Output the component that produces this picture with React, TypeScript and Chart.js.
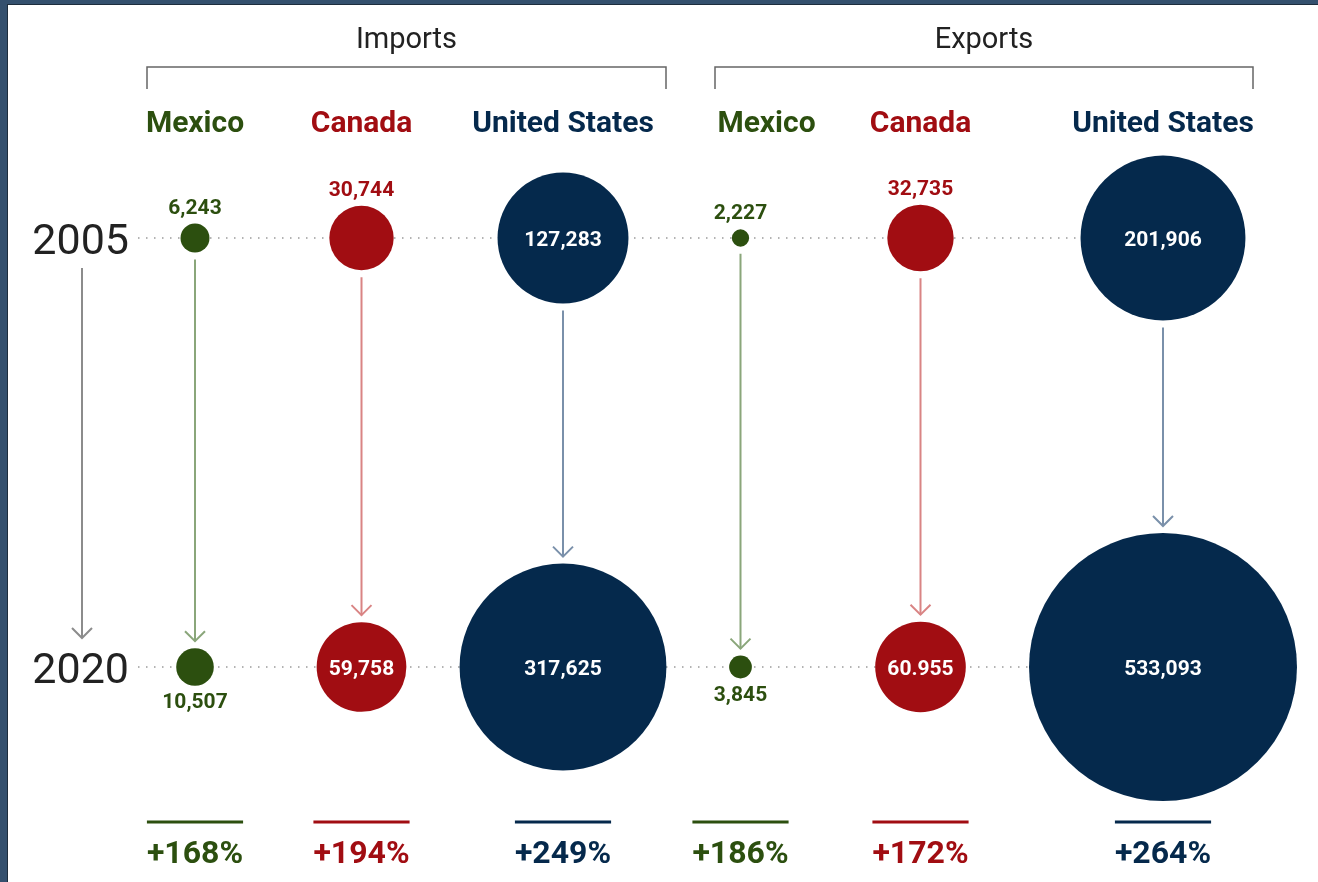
import React, { useEffect, useRef } from "react";
import { Chart, registerables } from "chart.js";

Chart.register(...registerables);

// ---------- data ----------
const countries = ["Mexico", "Canada", "United States"];
const flowTitles = ["Imports", "Exports"];
const years = [2005, 2020];

const imports2005 = [6243, 30744, 127283];
const imports2020 = [10507, 59758, 317625];
const exports2005 = [2227, 32735, 201906];
const exports2020 = [3845, 60955, 533093];

const imports2005Labels = ["6,243", "30,744", "127,283"];
const imports2020Labels = ["10,507", "59,758", "317,625"];
const exports2005Labels = ["2,227", "32,735", "201,906"];
const exports2020Labels = ["3,845", "60.955", "533,093"];

const importsChange = ["+168%", "+194%", "+249%"];
const exportsChange = ["+186%", "+172%", "+264%"];

// ---------- layout / style ----------
const W = 1310;
const H = 877;
const COLUMN_X = [
  [187, 353.5, 555],
  [732.5, 912.5, 1155],
];
const HEADER_DX = [
  [0, 0, 0],
  [26, 0, 0],
];
const BRACKETS = [
  [139, 658],
  [707, 1245],
];
const ROW_PX = [233, 662];
const RADIUS_K = 0.1835;
const COLORS = ["#2c4f0f", "#a10d12", "#05294c"];
const ARROW_COLORS = ["#8aa67a", "#d98484", "#7a90aa"];
const FONT = "Roboto, 'Noto Sans', Arial, sans-serif";

const perYear = (years[1] - years[0]) / (ROW_PX[1] - ROW_PX[0]);
const Y_MIN = years[0] - ROW_PX[0] * perYear;
const Y_MAX = years[0] + (H - ROW_PX[0]) * perYear;

const rad = (v: number) => RADIUS_K * Math.sqrt(v);

const groups = [
  { v05: imports2005, v20: imports2020, l05: imports2005Labels, l20: imports2020Labels, change: importsChange },
  { v05: exports2005, v20: exports2020, l05: exports2005Labels, l20: exports2020Labels, change: exportsChange },
];

function drawArrow(ctx: CanvasRenderingContext2D, x: number, y1: number, y2: number, color: string) {
  ctx.save();
  ctx.strokeStyle = color;
  ctx.lineWidth = 2;
  ctx.setLineDash([]);
  ctx.beginPath();
  ctx.moveTo(x, y1);
  ctx.lineTo(x, y2);
  ctx.stroke();
  ctx.beginPath();
  ctx.moveTo(x - 10, y2 - 10);
  ctx.lineTo(x, y2);
  ctx.lineTo(x + 10, y2 - 10);
  ctx.stroke();
  ctx.restore();
}

const decorPlugin = {
  id: "decor",
  beforeDatasetsDraw(chart: any) {
    const ctx: CanvasRenderingContext2D = chart.ctx;
    const xs = chart.scales.x;
    const ys = chart.scales.y;
    // dotted row lines
    ctx.save();
    ctx.strokeStyle = "#9a9a9a";
    ctx.lineWidth = 1.5;
    ctx.setLineDash([1.5, 6.5]);
    years.forEach((yr) => {
      const y = ys.getPixelForValue(yr);
      ctx.beginPath();
      ctx.moveTo(130, y);
      ctx.lineTo(xs.getPixelForValue(COLUMN_X[1][2]), y);
      ctx.stroke();
    });
    ctx.restore();
    // arrows between bubbles
    groups.forEach((g, gi) => {
      countries.forEach((_, i) => {
        const x = xs.getPixelForValue(COLUMN_X[gi][i]);
        const y1 = ys.getPixelForValue(years[0]) + rad(g.v05[i]) + 7;
        const y2 = ys.getPixelForValue(years[1]) - rad(g.v20[i]) - 7;
        drawArrow(ctx, x, y1, y2, ARROW_COLORS[i]);
      });
    });
    // time arrow
    drawArrow(ctx, 74, ys.getPixelForValue(years[0]) + 30, ys.getPixelForValue(years[1]) - 29, "#8c8c8c");
  },
  afterDatasetsDraw(chart: any) {
    const ctx: CanvasRenderingContext2D = chart.ctx;
    const xs = chart.scales.x;
    const ys = chart.scales.y;
    ctx.save();
    ctx.setLineDash([]);
    // titles & brackets
    flowTitles.forEach((t, gi) => {
      const [a, b] = BRACKETS[gi];
      const xa = xs.getPixelForValue(a);
      const xb = xs.getPixelForValue(b);
      ctx.fillStyle = "#222";
      ctx.font = `400 29px ${FONT}`;
      ctx.textAlign = "center";
      ctx.textBaseline = "alphabetic";
      ctx.fillText(t, (xa + xb) / 2, 43);
      ctx.strokeStyle = "#666";
      ctx.lineWidth = 1.5;
      ctx.beginPath();
      ctx.moveTo(xa, 84);
      ctx.lineTo(xa, 62);
      ctx.lineTo(xb, 62);
      ctx.lineTo(xb, 84);
      ctx.stroke();
    });
    // column headers
    groups.forEach((g, gi) => {
      countries.forEach((c, i) => {
        const x = xs.getPixelForValue(COLUMN_X[gi][i] + HEADER_DX[gi][i]);
        ctx.fillStyle = COLORS[i];
        ctx.font = `700 30px ${FONT}`;
        ctx.textAlign = "center";
        ctx.textBaseline = "alphabetic";
        ctx.fillText(c, x, 127);
      });
    });
    // year labels
    years.forEach((yr) => {
      const y = ys.getPixelForValue(yr);
      ctx.fillStyle = "#222";
      ctx.font = `400 43px ${FONT}`;
      ctx.textAlign = "right";
      ctx.textBaseline = "alphabetic";
      ctx.fillText(String(yr), 121, y + 16);
    });
    // value labels
    groups.forEach((g, gi) => {
      countries.forEach((_, i) => {
        const x = xs.getPixelForValue(COLUMN_X[gi][i]);
        [0, 1].forEach((k) => {
          const v = k === 0 ? g.v05[i] : g.v20[i];
          const label = k === 0 ? g.l05[i] : g.l20[i];
          const cy = ys.getPixelForValue(years[k]);
          const r = rad(v);
          ctx.font = `700 21px ${FONT}`;
          ctx.textAlign = "center";
          ctx.textBaseline = "alphabetic";
          if (r >= 40) {
            ctx.fillStyle = "#ffffff";
            ctx.fillText(label, x, cy + 7.5);
          } else if (k === 0) {
            ctx.fillStyle = COLORS[i];
            ctx.fillText(label, x, cy - r - 10);
          } else {
            ctx.fillStyle = COLORS[i];
            ctx.fillText(label, x, cy + r + 22.5);
          }
        });
      });
    });
    // change rules and percentages
    groups.forEach((g, gi) => {
      countries.forEach((_, i) => {
        const x = xs.getPixelForValue(COLUMN_X[gi][i]);
        ctx.font = `700 32px ${FONT}`;
        ctx.textAlign = "center";
        ctx.textBaseline = "alphabetic";
        const w = ctx.measureText(g.change[i]).width;
        ctx.strokeStyle = COLORS[i];
        ctx.lineWidth = 3;
        ctx.beginPath();
        ctx.moveTo(x - w / 2, 817);
        ctx.lineTo(x + w / 2, 817);
        ctx.stroke();
        ctx.fillStyle = COLORS[i];
        ctx.fillText(g.change[i], x, 858);
      });
    });
    ctx.restore();
  },
};

export default function App() {
  const ref = useRef<HTMLCanvasElement>(null);

  useEffect(() => {
    document.body.style.margin = "0";
    const canvas = ref.current;
    if (!canvas) return;
    const datasets = countries.map((c, i) => ({
      label: c,
      data: groups.flatMap((g, gi) => [
        { x: COLUMN_X[gi][i], y: years[0], r: rad(g.v05[i]) },
        { x: COLUMN_X[gi][i], y: years[1], r: rad(g.v20[i]) },
      ]),
      backgroundColor: COLORS[i],
      borderWidth: 0,
      hoverBorderWidth: 0,
      clip: false as any,
    }));
    const chart = new Chart(canvas, {
      type: "bubble",
      data: { datasets },
      options: {
        animation: false,
        responsive: false,
        devicePixelRatio: 1,
        events: [],
        layout: { padding: 0, autoPadding: false },
        plugins: { legend: { display: false }, tooltip: { enabled: false } },
        scales: {
          x: { type: "linear", min: 0, max: W, display: false },
          y: { type: "linear", min: Y_MIN, max: Y_MAX, reverse: true, display: false },
        },
      },
      plugins: [decorPlugin],
    });
    return () => chart.destroy();
  }, []);

  return (
    <div style={{ position: "fixed", inset: 0, background: "#34506e" }}>
      <div
        style={{
          position: "absolute",
          left: 7,
          top: 4,
          width: W,
          height: H,
          background: "#ffffff",
          borderLeft: "1px solid #1d2d3d",
          borderTop: "1px solid #1d2d3d",
        }}
      >
        <canvas ref={ref} width={W} height={H} style={{ display: "block" }} />
      </div>
    </div>
  );
}
